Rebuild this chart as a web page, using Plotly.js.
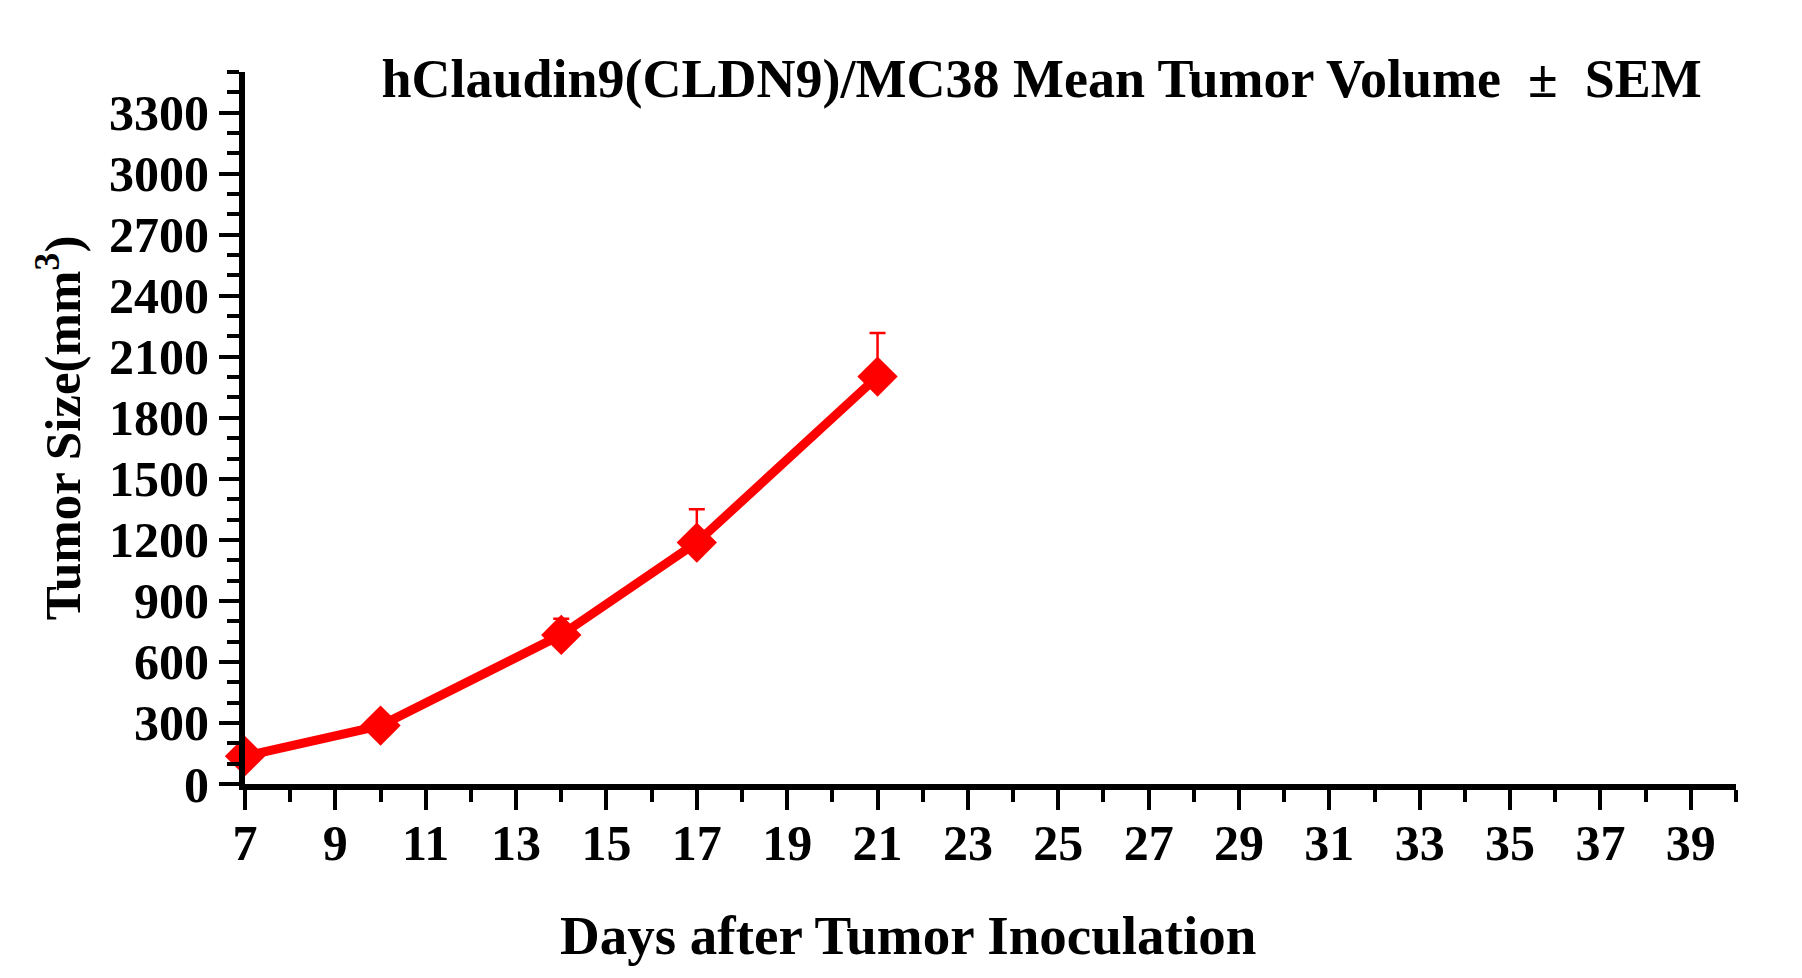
<!DOCTYPE html>
<html>
<head>
<meta charset="utf-8">
<script src="https://cdn.plot.ly/plotly-3.0.1.min.js"></script>
<style>
  body { margin: 0; background: #fff; }
  #chart { width: 1802px; height: 978px; }
</style>
</head>
<body>
<div id="chart"></div>
<script>
// days and mean volume (mm3) with upper SEM
var days = [7, 10, 14, 17, 21];
var meanVolume = [137, 287, 733, 1187, 2003];
var semUp = [15, 20, 79, 163, 214];
var semDown = [0, 0, 0, 0, 0];

var yTicks = [0, 300, 600, 900, 1200, 1500, 1800, 2100, 2400, 2700, 3000, 3300];
var xTicks = [7, 9, 11, 13, 15, 17, 19, 21, 23, 25, 27, 29, 31, 33, 35, 37, 39];

var fontFam = '"Liberation Serif", "Times New Roman", serif';

var trace1 = {
  x: days,
  y: meanVolume,
  type: 'scatter',
  mode: 'lines+markers',
  line: { color: '#ff0000', width: 9 },
  marker: { symbol: 'diamond', size: 31, color: '#ff0000' },
  error_y: {
    type: 'data',
    symmetric: false,
    array: semUp,
    arrayminus: semDown,
    color: '#ff0000',
    thickness: 2.5,
    width: 8
  },
  cliponaxis: false,
  showlegend: false
};

var layout = {
  width: 1802,
  height: 978,
  paper_bgcolor: '#fff',
  plot_bgcolor: '#fff',
  margin: { l: 245, r: 66, t: 72, b: 194 },
  font: { family: fontFam, color: '#000' },
  title: {
    text: 'hClaudin9(CLDN9)/MC38 Mean Tumor Volume\u00a0 ±\u00a0 SEM',
    font: { family: fontFam, size: 54, weight: 700, color: '#000' },
    x: 0.578, xanchor: 'center',
    yref: 'container', y: 0.92, yanchor: 'middle'
  },
  xaxis: {
    range: [7, 40],
    tickvals: xTicks,
    ticks: 'outside',
    ticklen: 20,
    tickwidth: 4,
    tickcolor: '#000',
    minor: { dtick: 1, tick0: 7, ticks: 'outside', ticklen: 12, tickwidth: 4, tickcolor: '#000' },
    showline: true,
    linewidth: 6,
    linecolor: '#000',
    showgrid: false,
    zeroline: false,
    ticklabelstandoff: -10,
    tickfont: { family: fontFam, size: 50, weight: 700, color: '#000' }
  },
  yaxis: {
    range: [0, 3500],
    tickvals: yTicks,
    ticks: 'outside',
    ticklen: 20,
    tickwidth: 4,
    tickcolor: '#000',
    minor: { dtick: 100, tick0: 0, ticks: 'outside', ticklen: 12, tickwidth: 4, tickcolor: '#000' },
    showline: true,
    linewidth: 6,
    linecolor: '#000',
    showgrid: false,
    zeroline: false,
    tickfont: { family: fontFam, size: 50, weight: 700, color: '#000' },
    title: {
      text: 'Tumor Size(mm<sup>3</sup>)',
      font: { family: fontFam, size: 51, weight: 700, color: '#000' },
      standoff: 14
    }
  },
  annotations: [{
    text: 'Days after Tumor Inoculation',
    xref: 'paper', yref: 'paper',
    x: 0.445, y: -0.213, xanchor: 'center', yanchor: 'middle',
    showarrow: false,
    font: { family: fontFam, size: 55, weight: 700, color: '#000' }
  }]
};

Plotly.newPlot('chart', [trace1], layout, { displayModeBar: false });
</script>
</body>
</html>
